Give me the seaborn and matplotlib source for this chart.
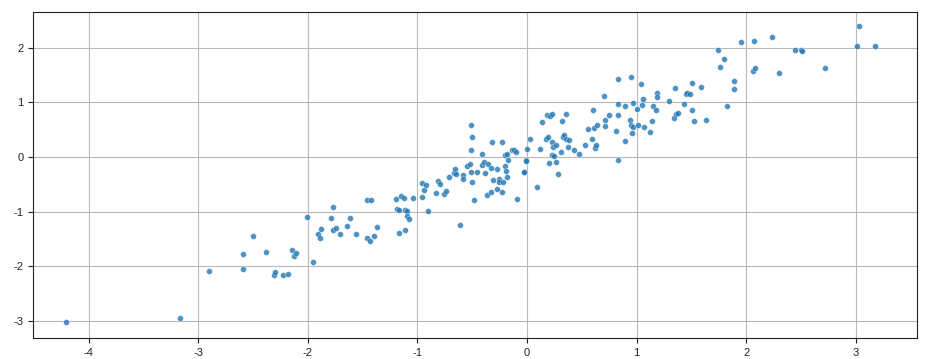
import numpy as np
import pandas as pd
import matplotlib
matplotlib.use("Agg")
import matplotlib.pyplot as plt
import seaborn as sns

x_vals = [-4.21, -3.17, -2.90, -2.59, -2.59, -2.50, -2.38, -2.31, -2.30, -2.23,
          -2.18, -2.15, -2.13, -2.11, -2.01, -1.95, -1.91, -1.89, -1.88, -1.79,
          -1.77, -1.77, -1.74, -1.71, -1.64, -1.62, -1.56, -1.46, -1.46, -1.43,
          -1.42, -1.40, -1.37, -1.20, -1.19, -1.17, -1.17, -1.15, -1.12, -1.11,
          -1.11, -1.10, -1.10, -1.08, -1.04, -0.96, -0.96, -0.94, -0.92, -0.90,
          -0.83, -0.81, -0.79, -0.76, -0.74, -0.71, -0.67, -0.66, -0.65, -0.61,
          -0.58, -0.58, -0.55, -0.52, -0.51, -0.51, -0.51, -0.50, -0.50, -0.48,
          -0.46, -0.41, -0.41, -0.39, -0.38, -0.37, -0.36, -0.33, -0.33, -0.32,
          -0.31, -0.27, -0.27, -0.26, -0.26, -0.23, -0.23, -0.22, -0.20, -0.20,
          -0.19, -0.18, -0.18, -0.17, -0.14, -0.12, -0.10, -0.09, -0.03, -0.03,
          -0.01, -0.01, 0.00, 0.03, 0.09, 0.12, 0.14, 0.17, 0.18, 0.19,
          0.20, 0.21, 0.23, 0.23, 0.23, 0.24, 0.25, 0.26, 0.26, 0.28,
          0.31, 0.32, 0.33, 0.34, 0.36, 0.36, 0.37, 0.38, 0.43, 0.47,
          0.53, 0.56, 0.59, 0.60, 0.61, 0.62, 0.63, 0.64, 0.70, 0.71,
          0.71, 0.75, 0.81, 0.83, 0.83, 0.83, 0.83, 0.89, 0.89, 0.94,
          0.95, 0.95, 0.96, 0.97, 0.97, 1.00, 1.01, 1.04, 1.05, 1.06,
          1.07, 1.12, 1.14, 1.15, 1.18, 1.19, 1.19, 1.30, 1.34, 1.35,
          1.36, 1.38, 1.43, 1.45, 1.46, 1.49, 1.51, 1.51, 1.52, 1.59,
          1.63, 1.74, 1.76, 1.80, 1.83, 1.89, 1.89, 1.95, 2.06, 2.07,
          2.08, 2.24, 2.30, 2.45, 2.50, 2.51, 2.72, 3.01, 3.03, 3.18]

y_vals = [-3.03, -2.96, -2.09, -1.78, -2.06, -1.45, -1.75, -2.17, -2.11, -2.17,
          -2.15, -1.71, -1.82, -1.76, -1.10, -1.93, -1.41, -1.49, -1.32, -1.12,
          -1.33, -0.92, -1.30, -1.41, -1.27, -1.12, -1.41, -0.78, -1.49, -1.54,
          -0.78, -1.45, -1.29, -0.77, -0.96, -0.97, -1.40, -0.72, -0.75, -1.34,
          -0.98, -0.99, -1.08, -1.14, -0.75, -0.47, -0.73, -0.60, -0.51, -0.99,
          -0.66, -0.44, -0.50, -0.68, -0.62, -0.37, -0.29, -0.22, -0.31, -1.25,
          -0.33, -0.40, -0.17, -0.13, 0.13, -0.27, 0.59, 0.37, -0.46, -0.79,
          -0.27, 0.06, -0.15, -0.09, -0.29, -0.70, -0.13, -0.64, -0.20, 0.28,
          -0.42, -0.22, -0.59, -0.41, -0.45, -0.64, 0.28, -0.46, -0.17, 0.03,
          -0.26, 0.06, -0.37, -0.06, 0.12, 0.12, 0.09, -0.77, -0.27, -0.28,
          -0.06, -0.07, 0.15, 0.33, -0.55, 0.15, 0.64, 0.33, 0.77, 0.37,
          -0.11, 0.75, 0.79, 0.28, 0.04, 0.18, 0.02, 0.22, -0.09, -0.31,
          0.10, 0.66, 0.37, 0.40, 0.33, 0.79, 0.18, 0.31, 0.12, 0.06,
          0.22, 0.52, 0.33, 0.86, 0.54, 0.17, 0.22, 0.59, 1.12, 0.68,
          0.57, 0.77, 0.48, 1.43, 0.97, 0.77, -0.06, 0.94, 0.29, 0.68,
          1.47, 0.59, 0.44, 0.55, 0.99, 0.88, 0.59, 1.34, 0.96, 1.07,
          0.55, 0.46, 0.66, 0.94, 0.86, 1.18, 1.10, 1.03, 0.72, 1.27,
          0.79, 0.81, 0.97, 1.16, 1.18, 1.16, 1.36, 0.86, 0.66, 1.29,
          0.68, 1.97, 1.65, 1.80, 0.94, 1.25, 1.40, 2.11, 1.58, 2.13,
          1.64, 2.20, 1.54, 1.97, 1.97, 1.95, 1.64, 2.04, 2.41, 2.04]

df = pd.DataFrame({"x": x_vals, "y": y_vals})

sns.set_style("white")
plt.rcParams['font.family'] = ['Liberation Sans', 'DejaVu Sans']
plt.rcParams['axes.unicode_minus'] = False

fig = plt.figure(figsize=(9.27, 3.59), dpi=100)
ax = fig.add_axes([33/927, 1-338/359, (917-33)/927, (338-12)/359])

sns.scatterplot(data=df, x="x", y="y", ax=ax, color="#1f77b4", alpha=0.8,
                s=18, edgecolor="white", linewidth=0.3, zorder=3)

ax.set_xlim(-4.51, 3.56)
ax.set_ylim(-3.32, 2.66)
ax.set_xticks([-4, -3, -2, -1, 0, 1, 2, 3])
ax.set_yticks([-3, -2, -1, 0, 1, 2])
ax.grid(True, color="#b8b8b8", linewidth=0.8, zorder=0)
ax.set_axisbelow(True)
ax.set_xlabel("")
ax.set_ylabel("")
for sp in ax.spines.values():
    sp.set_visible(True)
    sp.set_color("#222222")
    sp.set_linewidth(0.8)
ax.tick_params(axis="both", which="both", direction="out", length=3.5,
               width=0.8, labelsize=8, colors="#222222", bottom=True, left=True)

fig.savefig("out.png", dpi=100, facecolor="white")
